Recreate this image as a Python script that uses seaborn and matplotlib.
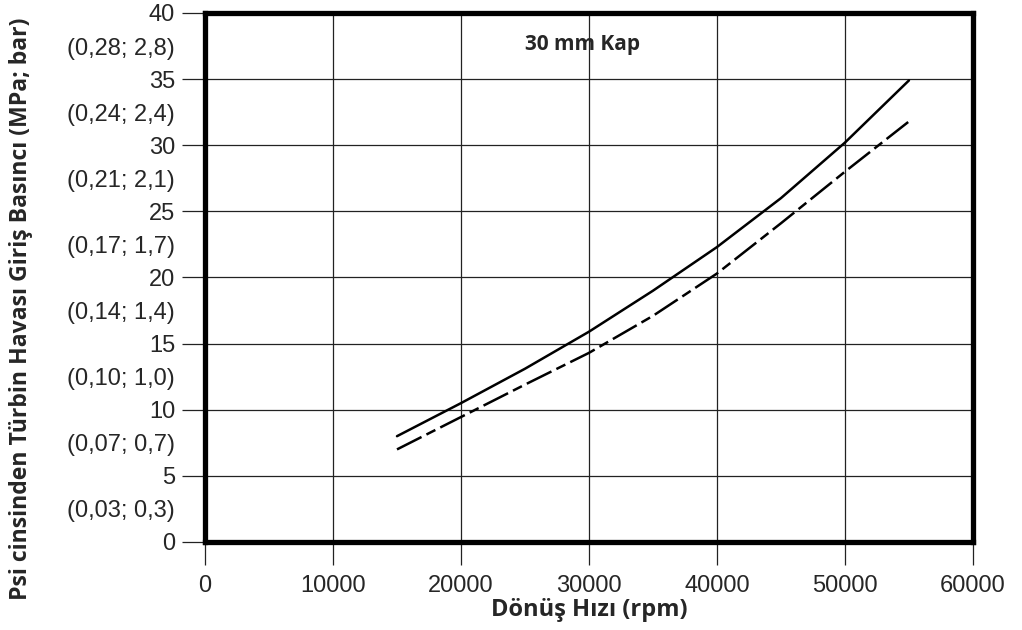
import pandas as pd
import matplotlib
matplotlib.use("Agg")
import matplotlib.pyplot as plt
import seaborn as sns

rpm = [15000, 20000, 25000, 30000, 35000, 40000, 45000, 50000, 55000]
psi_solid = [8.0, 10.5, 13.1, 15.9, 19.0, 22.3, 26.0, 30.2, 34.9]
psi_dashed = [7.0, 9.45, 11.9, 14.3, 17.1, 20.3, 24.1, 28.0, 31.8]

y_major = [0, 5, 10, 15, 20, 25, 30, 35, 40]
y_minor = [2.5, 7.5, 12.5, 17.5, 22.5, 27.5, 32.5, 37.5]
y_minor_labels = ["(0,03; 0,3)", "(0,07; 0,7)", "(0,10; 1,0)", "(0,14; 1,4)",
                  "(0,17; 1,7)", "(0,21; 2,1)", "(0,24; 2,4)", "(0,28; 2,8)"]
x_ticks = [0, 10000, 20000, 30000, 40000, 50000, 60000]

df = pd.DataFrame({"rpm": rpm, "solid": psi_solid, "dashed": psi_dashed})

sns.set_style("white")
plt.rcParams["font.family"] = ["Liberation Sans", "DejaVu Sans"]

fig = plt.figure(figsize=(10.22, 6.30), dpi=100)
ax = fig.add_axes([0.2006, 0.1397, 0.7514, 0.8397])

sns.lineplot(data=df, x="rpm", y="solid", ax=ax, color="black", linewidth=1.8)
sns.lineplot(data=df, x="rpm", y="dashed", ax=ax, color="black", linewidth=1.8,
             linestyle=(0, (11, 2.2, 4, 2.2)))

ax.set_xlim(0, 60000)
ax.set_ylim(0, 40)
ax.set_xticks(x_ticks)
ax.set_xticklabels([str(v) for v in x_ticks])
ax.set_yticks(y_major)
ax.set_yticklabels([str(v) for v in y_major])
ax.set_yticks(y_minor, minor=True)
ax.set_yticklabels(y_minor_labels, minor=True)

ax.grid(True, which="major", color="#222222", linewidth=0.9)
for s in ax.spines.values():
    s.set_visible(True)
    s.set_linewidth(3.8)
    s.set_color("black")
    s.set_zorder(5)

ax.tick_params(which="major", direction="out", length=16.5, width=0.9,
               color="#222222", labelsize=17, left=True, bottom=True)
ax.tick_params(axis="y", which="major", pad=5)
ax.tick_params(axis="x", which="major", pad=7)
ax.tick_params(axis="y", which="minor", length=0, labelsize=17, pad=5 + 16.5)

label_font = ["Open Sans", "DejaVu Sans"]
ax.set_xlabel("Dönüş Hızı (rpm)", fontsize=17, fontweight="bold", family=label_font)
ax.xaxis.set_label_coords(0.5007, -0.106)
ax.set_ylabel("Psi cinsinden Türbin Havası Giriş Basıncı (MPa; bar)", fontsize=16.6,
              fontweight="bold", family=label_font)
ax.yaxis.set_label_coords(-0.224, 0.44)

ax.text(0.492, 0.94, "30 mm Kap", transform=ax.transAxes, ha="center", va="center",
        fontsize=15, fontweight="bold", family=label_font)

fig.savefig("out.png", dpi=100)
